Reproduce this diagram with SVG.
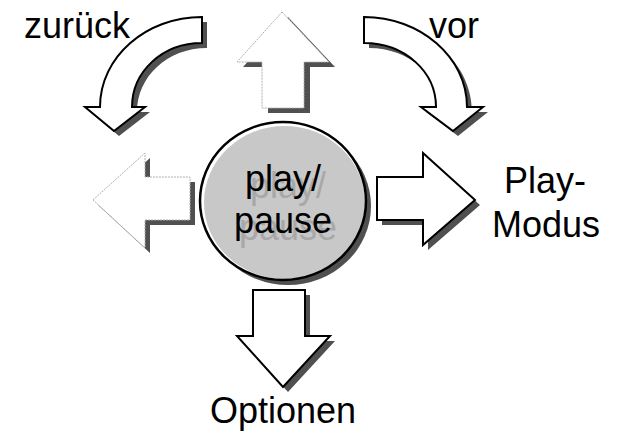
<svg xmlns="http://www.w3.org/2000/svg" width="617" height="435" viewBox="0 0 617 435">
<style>
  .lbl { font-family: "Liberation Sans", Arial, sans-serif; font-size: 36px; fill: #000; text-anchor: middle; }
  .shadowtxt { font-family: "Liberation Sans", Arial, sans-serif; font-size: 36px; fill: #a8a8a8; text-anchor: middle; }
  .shadow { fill: #505050; stroke: none; }
  .solid { fill: #fff; stroke: #000; stroke-width: 2; stroke-linejoin: miter; }
  .faded { fill: #fff; stroke: #b0b0b0; stroke-width: 1; stroke-dasharray: 2 1; }
</style>
<rect width="617" height="435" fill="#fff"/>
<g id="connectors">
  <g id="arrow-zurueck">
    <path class="shadow" transform="translate(5,5)" d="M202,17 C146,17 100,57 100,107 L85,107 L114,131 L145,107 L132,107 C132,72 162,43 202,43 Z"/>
    <path class="solid" d="M202,17 C146,17 100,57 100,107 L85,107 L114,131 L145,107 L132,107 C132,72 162,43 202,43 Z"/>
  </g>
  <g id="arrow-vor">
    <path class="shadow" transform="translate(5,5)" d="M364,17 C420,17 467,57 467,107 L483,107 L453,131 L421,107 L436,107 C436,72 405,43 364,43 Z"/>
    <path class="solid" d="M364,17 C420,17 467,57 467,107 L483,107 L453,131 L421,107 L436,107 C436,72 405,43 364,43 Z"/>
  </g>
  <g id="arrow-up">
    <polygon class="shadow" transform="translate(6,5)" points="282,12 329,62 304,62 304,108 262,108 262,62 237,62"/>
    <polygon class="faded" points="282,12 329,62 304,62 304,108 262,108 262,62 237,62"/>
  </g>
  <g id="arrow-left">
    <polygon class="shadow" transform="translate(5,5)" points="93,200 145,153 145,177 190,177 190,220 145,220 145,248"/>
    <polygon class="faded" points="93,200 145,153 145,177 190,177 190,220 145,220 145,248"/>
  </g>
  <g id="arrow-right">
    <polygon class="shadow" transform="translate(5,5)" points="377,177 423,177 423,153 475,200 423,245 423,220 377,220"/>
    <polygon class="solid" points="377,177 423,177 423,153 475,200 423,245 423,220 377,220"/>
  </g>
  <g id="arrow-down">
    <polygon class="shadow" transform="translate(5,5)" points="253,290 305,290 305,336 330,336 283,387 237,336 253,336"/>
    <polygon class="solid" points="253,290 305,290 305,336 330,336 283,387 237,336 253,336"/>
  </g>
</g>
<g id="node-playpause">
  <ellipse cx="288" cy="206" rx="83" ry="79" fill="#505050"/>
  <ellipse cx="283" cy="201" rx="83" ry="79" fill="#fff"/>
  <ellipse cx="284.5" cy="202.5" rx="80.5" ry="76.5" fill="#c8c8c8"/>
  <ellipse cx="283" cy="201" rx="83" ry="79" fill="none" stroke="#000" stroke-width="2.5"/>
  <text class="shadowtxt" x="288" y="198">play/</text>
  <text class="shadowtxt" x="288" y="240">pause</text>
  <text class="lbl" x="283" y="191">play/</text>
  <text class="lbl" x="283" y="233">pause</text>
</g>
<g id="node-zurueck"><text class="lbl" x="77" y="38">zurück</text></g>
<g id="node-vor"><text class="lbl" x="454" y="38">vor</text></g>
<g id="node-playmodus">
  <text class="lbl" x="545" y="193">Play-</text>
  <text class="lbl" x="546" y="237">Modus</text>
</g>
<g id="node-optionen"><text class="lbl" x="283" y="423">Optionen</text></g>
</svg>
